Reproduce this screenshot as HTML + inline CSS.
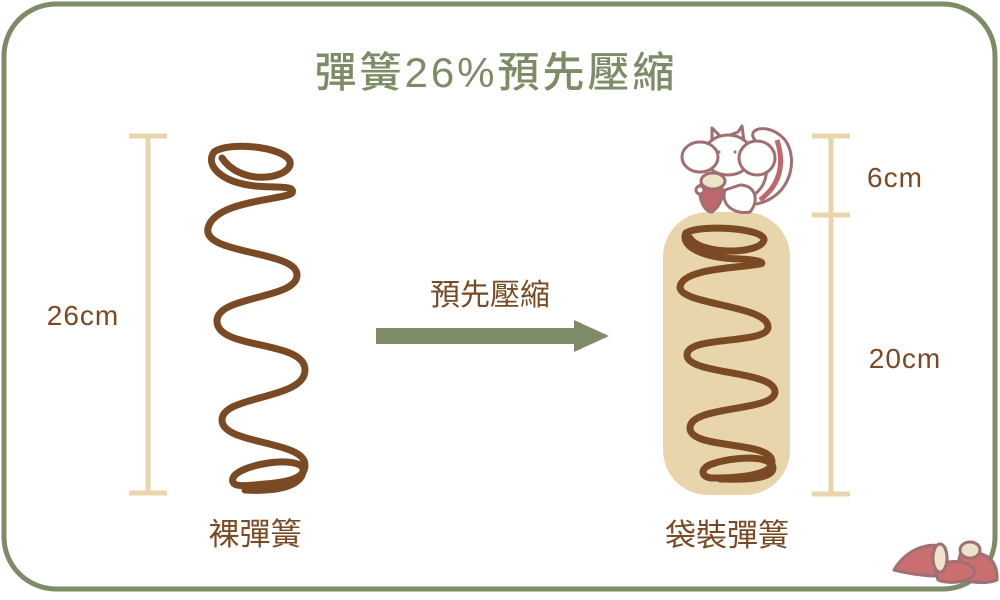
<!DOCTYPE html>
<html><head><meta charset="utf-8"><style>
html,body{margin:0;padding:0;background:#fff;}
svg text{font-family:"Liberation Sans","Noto Sans CJK TC",sans-serif;}
</style></head><body>
<svg width="1000" height="595" viewBox="0 0 1000 595" xmlns="http://www.w3.org/2000/svg">
<rect x="4" y="4" width="991" height="585" rx="52" fill="#fff" stroke="#7d8c66" stroke-width="5"/>
<text x="496" y="87" text-anchor="middle" font-size="42" letter-spacing="3" fill="#7d8c66" font-weight="500">彈簧26%預先壓縮</text>
<g stroke="#e8d5ac" stroke-width="5" fill="none">
<line x1="148" y1="136" x2="148" y2="493"/>
<line x1="129" y1="136" x2="167" y2="136"/>
<line x1="129" y1="493" x2="167" y2="493"/>
<line x1="831" y1="136" x2="831" y2="494"/>
<line x1="812" y1="136" x2="850" y2="136"/>
<line x1="812" y1="215" x2="850" y2="215"/>
<line x1="812" y1="494" x2="850" y2="494"/>
</g>
<text x="83" y="325" text-anchor="middle" font-size="28" letter-spacing="1" fill="#7a4a24">26cm</text>
<text x="895" y="187" text-anchor="middle" font-size="28" letter-spacing="1" fill="#7a4a24">6cm</text>
<text x="905" y="368" text-anchor="middle" font-size="28" letter-spacing="1" fill="#7a4a24">20cm</text>
<path d="M222 158 C240 185,285 180,290 165 C294 148,230 140,214 152 C205 165,220 182,255 186 C275 188,296 185,292 193 C285 200,215 200,208 228 C202 255,297 250,297 275 C297 300,215 295,217 322 C219 350,305 340,305 370 C305 400,222 395,222 420 C222 445,305 440,305 465 C305 478,290 482,265 484 C245 486,230 488,233 478 C238 465,295 455,303 468 C305 485,280 492,245 490" fill="none" stroke="#7a4a24" stroke-width="7" stroke-linecap="round"/>
<text x="255" y="545" text-anchor="middle" font-size="31" fill="#7a4a24">裸彈簧</text>
<text x="490" y="305" text-anchor="middle" font-size="30" fill="#7a4a24">預先壓縮</text>
<rect x="376" y="328" width="200" height="16" fill="#7d8c66"/>
<polygon points="574,320 609,336 574,352" fill="#7d8c66"/>
<rect x="663" y="212" width="127" height="283" rx="45" fill="#e8d5ac"/>
<path d="M690 238 C700 255,760 255,764 240 C765 228,700 224,686 233 C680 245,700 258,740 259 C760 260,765 263,760 264 C740 268,682 268,680 287 C680 305,768 305,768 327 C768 345,687 335,687 355 C687 375,775 370,775 392 C775 412,690 405,690 428 C690 450,772 440,772 462 C772 475,740 478,712 478 C700 477,700 468,712 464 C735 456,772 455,773 468 C773 478,750 480,720 479" fill="none" stroke="#7a4a24" stroke-width="7" stroke-linecap="round"/>
<text x="727" y="546" text-anchor="middle" font-size="31" fill="#7a4a24">袋裝彈簧</text>
<g stroke="#a06f72" stroke-width="3" fill="#fff" stroke-linejoin="round">
<path d="M745 205 C790 205,800 160,785 140 C770 122,745 128,755 140 C775 160,770 200,735 200 Z"/>
<path d="M777 140 C785 165,780 185,760 200" fill="none" stroke="#c0676b" stroke-width="5"/>
<path d="M712 150 L712 128 L722 138 L738 132 L742 126 L745 150 Z"/>
<ellipse cx="728" cy="155" rx="24" ry="20"/>
<ellipse cx="700" cy="157" rx="18" ry="15"/>
<ellipse cx="757" cy="158" rx="18" ry="17"/>
<path d="M725 190 C720 205,735 215,750 212 C760 200,755 185,740 185 Z"/>
<path d="M700 185 C698 200,705 212,712 212 C722 205,725 192,720 182 Z" fill="#c0676b"/>
<ellipse cx="713" cy="181" rx="12" ry="8" fill="#ece3c8"/>
<circle cx="700" cy="190" r="4"/>
</g>
<circle cx="719" cy="152" r="1.5" fill="#a06f72"/><circle cx="735" cy="152" r="1.5" fill="#a06f72"/>
<g stroke="#a06f72" stroke-width="3" fill="#c96f72" stroke-linejoin="round">
<path d="M894 570 C905 550,930 540,945 548 L950 575 C935 578,910 574,894 570 Z"/>
<path d="M960 555 C985 548,998 560,997 580 C985 585,970 582,955 578 Z"/>
<path d="M935 568 C945 560,965 558,975 570 C975 582,950 585,938 580 Z"/>
<ellipse cx="940" cy="558" rx="7" ry="14" fill="#ece3c8"/>
<ellipse cx="970" cy="550" rx="10" ry="8" fill="#ece3c8"/>
</g>
</svg>
</body></html>
